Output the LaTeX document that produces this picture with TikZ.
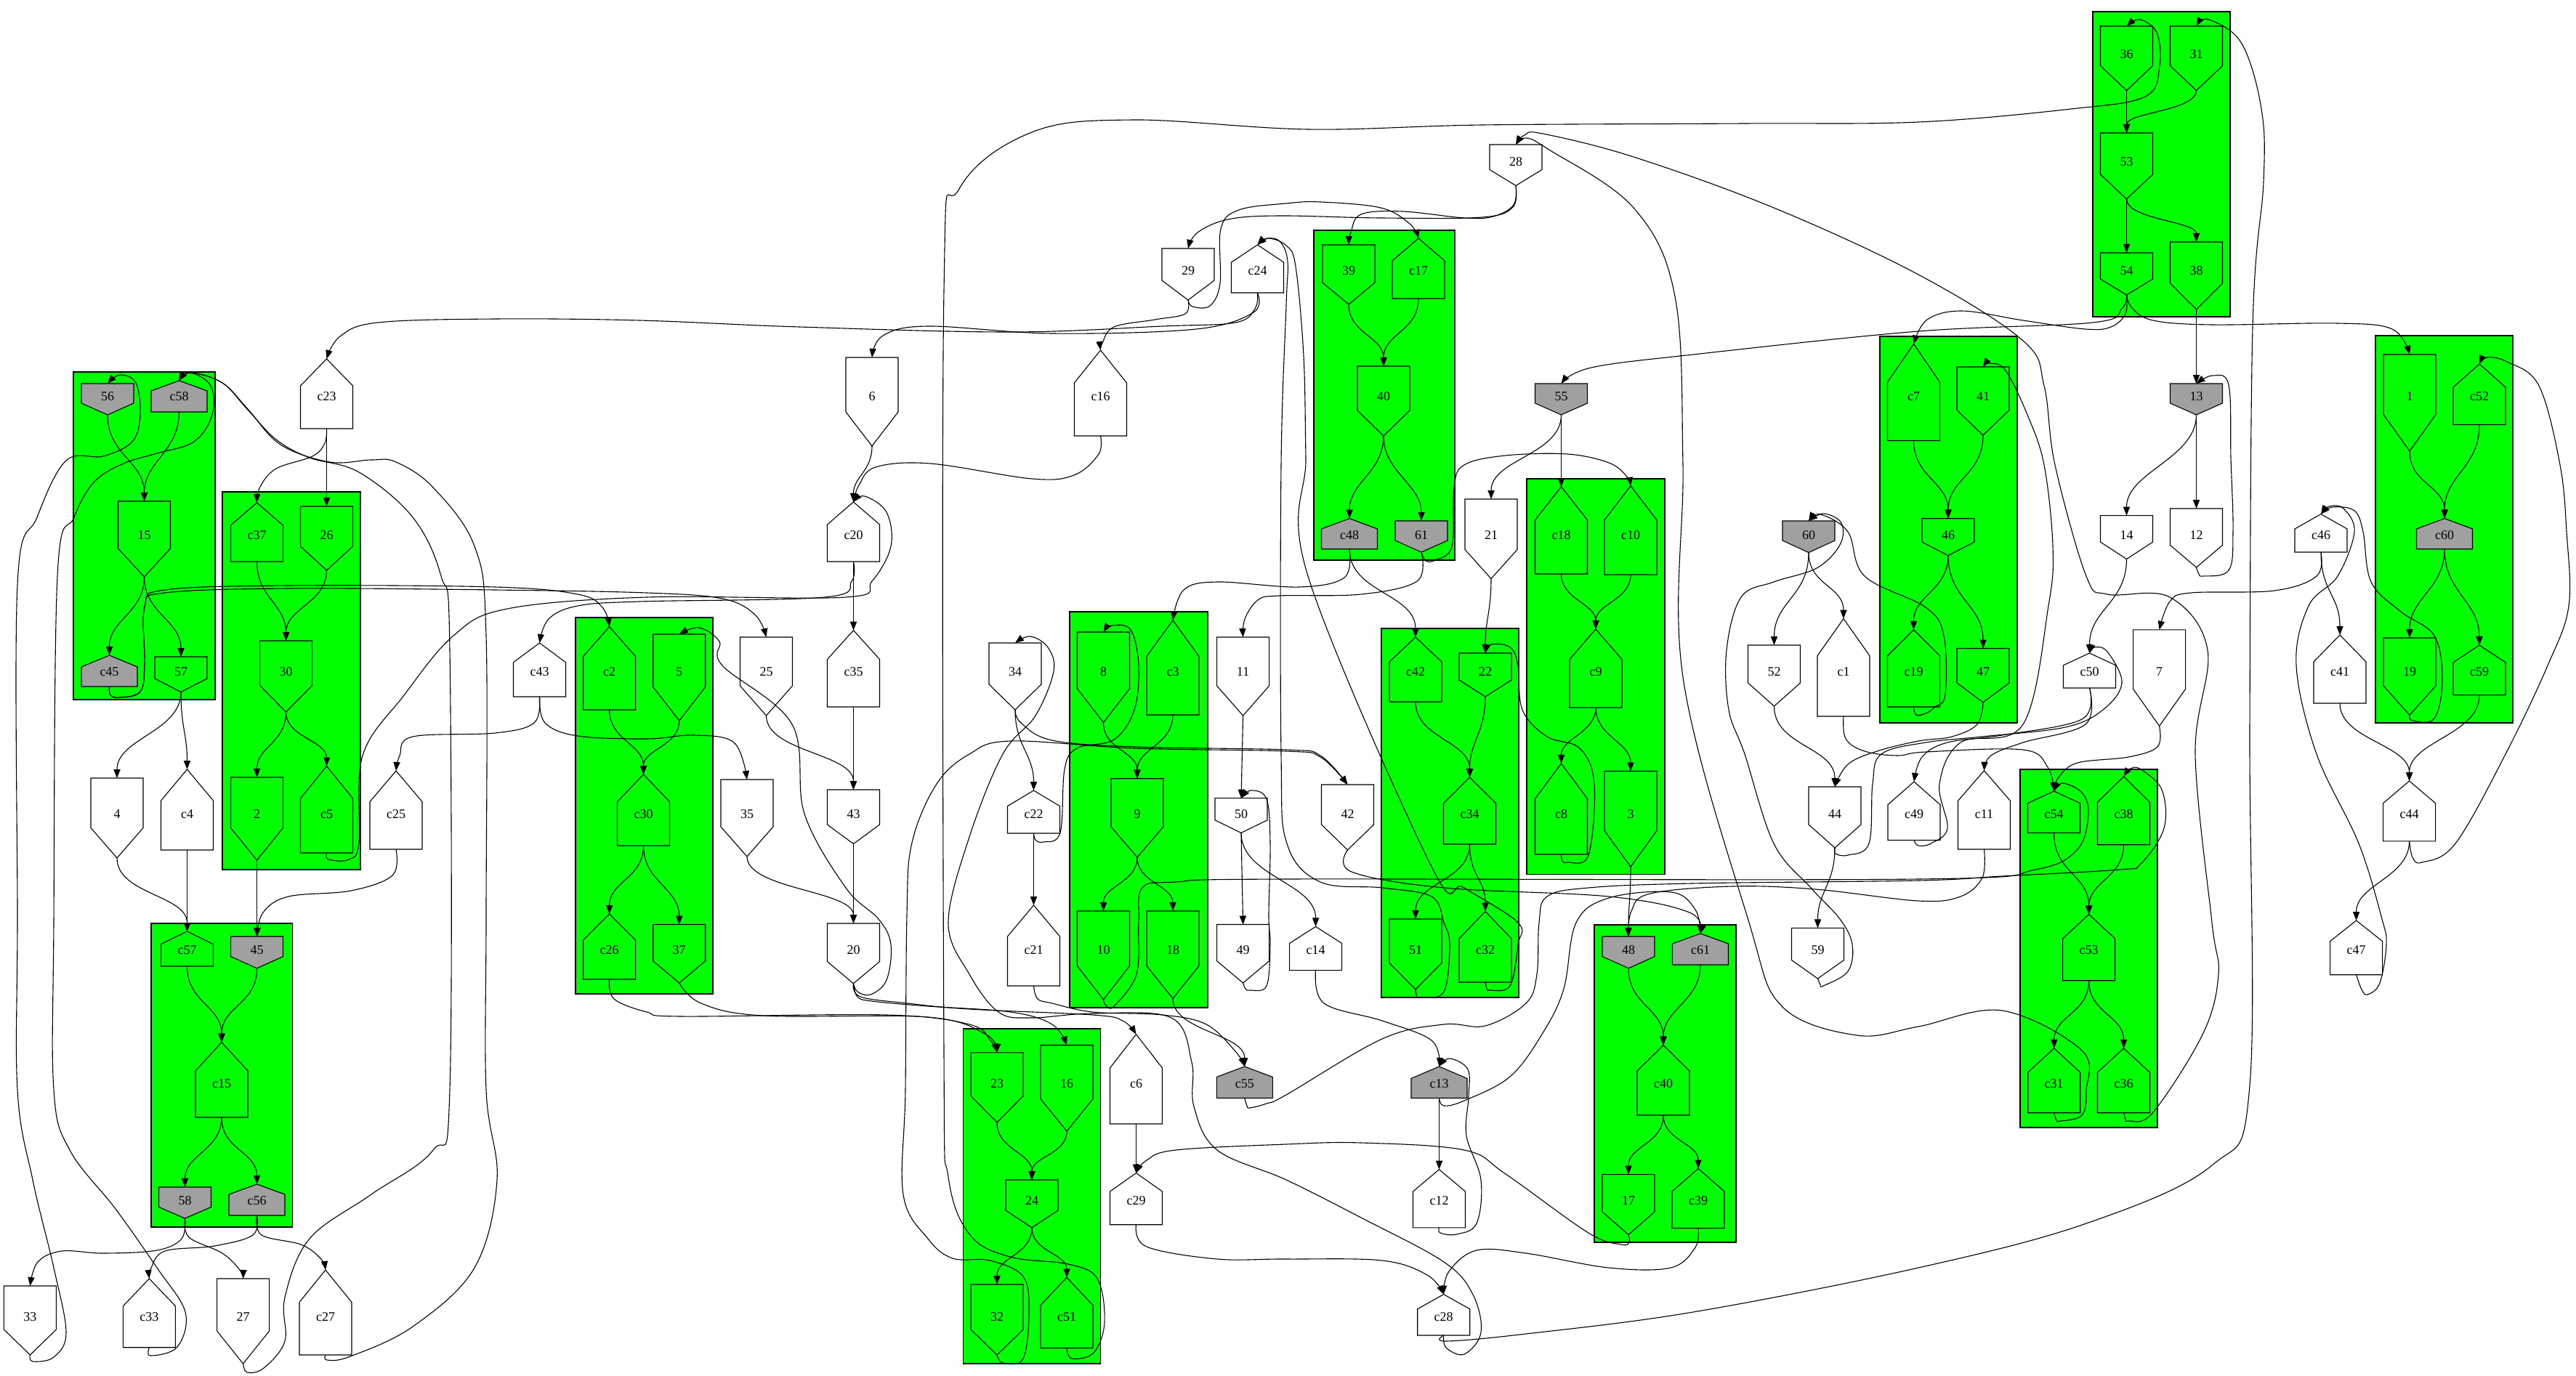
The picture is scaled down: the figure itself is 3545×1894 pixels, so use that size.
\documentclass[tikz,border=0pt]{standalone}
\usepackage{fontspec}
\setmainfont{Liberation Serif}
\usetikzlibrary{arrows.meta}
\definecolor{cgreen}{RGB}{0,255,0}
\definecolor{cgray}{RGB}{160,160,160}
\tikzset{
  nodeline/.style={draw=black, line width=0.55pt},
  lbl/.style={inner sep=0pt, outer sep=0pt, anchor=base, font=\fontsize{9}{10}\selectfont},
  edge/.style={draw=black, line width=0.55pt, -{Triangle[length=6pt,width=4.6pt]}},
  clus/.style={fill=cgreen, draw=black, line width=0.55pt}
}
% down-pointing node: name,label,cx,top,rectbottom,tip,fill,ranky,halfwidth
\newcommand\DN[9]{%
  \pgfmathsetmacro\nXL{#3-#9}\pgfmathsetmacro\nXR{#3+#9}%
  \pgfmathsetmacro\nTH{(#8+6-#4)*0.5}\pgfmathsetmacro\nTD{(#6-#8-6)*0.5}%
  \pgfmathsetmacro\nBY{#8+6}%
  \filldraw[nodeline, fill=#7] (\nXL,#4) -- (\nXR,#4) -- (\nXR,#5) -- (#3,#6) -- (\nXL,#5) -- cycle;
  \node[lbl, text height=\nTH pt, text depth=\nTD pt, minimum width=#9 pt] (#1) at (#3,\nBY) {#2};
}
% house node: name,label,cx,tip,shoulder,bottom,fill,ranky,halfwidth
\newcommand\HN[9]{%
  \pgfmathsetmacro\nXL{#3-#9}\pgfmathsetmacro\nXR{#3+#9}%
  \pgfmathsetmacro\nTH{(#8+6-#4)*0.5}\pgfmathsetmacro\nTD{(#6-#8-6)*0.5}%
  \pgfmathsetmacro\nBY{#8+6}%
  \filldraw[nodeline, fill=#7] (\nXL,#6) -- (\nXR,#6) -- (\nXR,#5) -- (#3,#4) -- (\nXL,#5) -- cycle;
  \node[lbl, text height=\nTH pt, text depth=\nTD pt, minimum width=#9 pt] (#1) at (#3,\nBY) {#2};
}
\newcommand\SE[2]{\draw[edge] (#1.south) -- (#2.north);}
\newcommand\CE[3]{\draw[edge] (#1.south) .. controls +(0,#3) and +(0,-#3) .. (#2.north);}
\newcommand\PE[3]{\draw[edge] plot[smooth,tension=0.6] coordinates {(#1.south) #3 (#2.north)};}
\begin{document}
\begin{tikzpicture}[x=0.5pt,y=-0.5pt]
\useasboundingbox (0,0) rectangle (3545,1894);
\fill[white] (0,0) rectangle (3545,1894);
% clusters
\filldraw[clus] (101,512) rectangle (296,963);
\filldraw[clus] (1808,317) rectangle (2002,771);
\filldraw[clus] (2587,463) rectangle (2776,995);
\filldraw[clus] (2880,16) rectangle (3069,436);
\filldraw[clus] (3269,462) rectangle (3458,995);
\filldraw[clus] (306,677) rectangle (496,1197);
\filldraw[clus] (792,850) rectangle (981,1368);
\filldraw[clus] (1472,842) rectangle (1662,1387);
\filldraw[clus] (2101,659) rectangle (2291,1203.5);
\filldraw[clus] (1901,865) rectangle (2090,1373);
\filldraw[clus] (2780,1059) rectangle (2969,1552);
\filldraw[clus] (208,1271) rectangle (402.5,1689);
\filldraw[clus] (1325.6,1416) rectangle (1514.6,1877);
\filldraw[clus] (2194,1273) rectangle (2389,1710);
% down nodes
\DN{n36}{36}{2926.5}{36}{90.6}{124.5}{cgreen}{74.7}{36}
\DN{n31}{31}{3022.5}{36}{90.6}{124.5}{cgreen}{74.7}{36}
\DN{n28}{28}{2086}{199}{233.5}{255.5}{white}{222.5}{36}
\DN{n53}{53}{2926.5}{183}{240}{274}{cgreen}{222.5}{36}
\DN{n29}{29}{1635}{342}{386}{413}{white}{372.7}{36}
\DN{n39}{39}{1856}{337}{389}{419}{cgreen}{372.7}{36}
\DN{n54}{54}{2926.5}{348}{384}{406}{cgreen}{372.7}{36}
\DN{n38}{38}{3022.5}{333}{390}{426}{cgreen}{372.7}{36}
\DN{n56}{56}{148}{528}{555}{571}{cgray}{545.8}{36}
\DN{n6}{6}{1200}{492}{567}{614}{white}{545.8}{36}
\DN{n40}{40}{1904}{504}{565}{600}{cgreen}{545.8}{36}
\DN{n55}{55}{2148.5}{528}{555}{571}{cgray}{545.8}{36}
\DN{n41}{41}{2729}{505}{564.5}{599}{cgreen}{545.8}{36}
\DN{n13}{13}{3022.5}{528}{555}{571}{cgray}{545.8}{36}
\DN{n1}{1}{3316}{488}{570.6}{621}{cgreen}{545.8}{36}
\DN{n15}{15}{198.5}{690}{755}{794}{cgreen}{736}{36}
\DN{n26}{26}{449.5}{697}{752}{785}{cgreen}{736}{36}
\DN{n61}{61}{1956}{717}{744}{760}{cgray}{736}{36}
\DN{n21}{21}{2052}{687}{756.5}{796.5}{white}{736}{36}
\DN{n60}{60}{2489}{717}{744}{760.6}{cgray}{736}{36}
\DN{n46}{46}{2681}{713.7}{746}{764.7}{cgreen}{736}{36}
\DN{n14}{14}{2926.5}{709.6}{746}{769.6}{white}{736}{36}
\DN{n12}{12}{3022.5}{700}{750.4}{781}{white}{736}{36}
\DN{n57}{57}{249}{904}{934}{952.5}{cgreen}{924.7}{36}
\DN{n30}{30}{393.6}{882}{943.5}{980}{cgreen}{924.7}{36}
\DN{n5}{5}{934.7}{873}{945.5}{992}{cgreen}{924.7}{36}
\DN{n25}{25}{1054.5}{877}{944}{985}{white}{924.7}{36}
\DN{n34}{34}{1397}{885}{942}{977}{white}{924.7}{36}
\DN{n8}{8}{1518.5}{870}{948}{994.5}{cgreen}{924.7}{36}
\DN{n11}{11}{1710.6}{877}{944}{985}{white}{924.7}{36}
\DN{n22}{22}{2044}{899}{936}{959}{cgreen}{924.7}{36}
\DN{n52}{52}{2441.5}{888}{940}{972}{white}{924.7}{36}
\DN{n47}{47}{2729}{892.5}{940}{966.8}{cgreen}{924.7}{36}
\DN{n7}{7}{2971.6}{866.8}{948.4}{999.4}{white}{924.7}{36}
\DN{n19}{19}{3316}{878}{944}{984.3}{cgreen}{924.7}{36}
\DN{n4}{4}{161}{1071}{1139.5}{1181}{white}{1120}{36}
\DN{n2}{2}{353.5}{1070}{1139.5}{1184}{cgreen}{1120}{36}
\DN{n35}{35}{1028}{1073}{1138}{1179}{white}{1120}{36}
\DN{n43}{43}{1174.5}{1087}{1135}{1161.5}{white}{1120}{36}
\DN{n9}{9}{1565}{1071.7}{1138}{1180}{cgreen}{1120}{36}
\DN{n50}{50}{1708}{1098.6}{1128.8}{1146.4}{white}{1120}{36}
\DN{n42}{42}{1854.5}{1080}{1135}{1170}{white}{1120}{36}
\DN{n3}{3}{2244}{1061.5}{1143.5}{1193}{cgreen}{1120}{36}
\DN{n44}{44}{2525}{1083}{1135}{1167}{white}{1120}{36}
\DN{n45}{45}{353.5}{1289}{1316.6}{1332.8}{cgray}{1307.7}{36}
\DN{n37}{37}{934.7}{1272.5}{1322.7}{1353}{cgreen}{1307.7}{36}
\DN{n20}{20}{1174.5}{1271}{1323.5}{1353.8}{white}{1307.7}{36}
\DN{n10}{10}{1518.5}{1254}{1329.5}{1376}{cgreen}{1307.7}{36}
\DN{n18}{18}{1614}{1254}{1329.5}{1374.4}{cgreen}{1307.7}{36}
\DN{n49}{49}{1710.6}{1272.5}{1322.7}{1353}{white}{1307.7}{36}
\DN{n51}{51}{1948}{1265}{1325.5}{1362}{cgreen}{1307.7}{36}
\DN{n48}{48}{2241}{1289}{1316.6}{1332.8}{cgray}{1307.7}{36}
\DN{n59}{59}{2501.5}{1277.4}{1321.5}{1347}{white}{1307.7}{36}
\DN{n23}{23}{1372}{1448.8}{1508.6}{1545}{cgreen}{1491}{36}
\DN{n16}{16}{1468}{1438.7}{1512.7}{1557}{cgreen}{1491}{36}
\DN{n58}{58}{254.5}{1634}{1661.5}{1677}{cgray}{1652}{36}
\DN{n24}{24}{1420}{1624}{1666}{1689.8}{cgreen}{1652}{36}
\DN{n17}{17}{2241}{1616.6}{1668}{1699.5}{cgreen}{1652}{36}
\DN{n33}{33}{41.4}{1770}{1830}{1865}{white}{1812}{36}
\DN{n27}{27}{334.6}{1760}{1832}{1877}{white}{1812}{36}
\DN{n32}{32}{1372}{1768}{1830}{1865}{cgreen}{1812}{36}
% house nodes
\HN{c24}{c24}{1730.5}{337}{361}{403}{white}{372.7}{36}
\HN{c17}{c17}{1952}{328}{359}{411}{cgreen}{372.7}{36}
\HN{c58}{c58}{246.5}{524}{538}{567}{cgray}{545.8}{38.5}
\HN{c23}{c23}{449.5}{494}{531}{590}{white}{545.8}{36}
\HN{c16}{c16}{1514.5}{482}{527}{600}{white}{545.8}{36}
\HN{c7}{c7}{2633.5}{473.5}{526}{606.5}{cgreen}{545.8}{36}
\HN{c52}{c52}{3412}{501}{533}{584.5}{cgreen}{545.8}{36}
\HN{c37}{c37}{353.5}{692}{723}{773}{cgreen}{736}{36}
\HN{c20}{c20}{1174.5}{691}{722}{773}{white}{736}{36}
\HN{c48}{c48}{1857}{713.7}{728}{755.7}{cgray}{736}{38.5}
\HN{c18}{c18}{2148.5}{670}{715.7}{790}{cgreen}{736}{36}
\HN{c10}{c10}{2244}{668.8}{715.7}{791}{cgreen}{736}{36}
\HN{c46}{c46}{3194}{707.6}{728}{760}{white}{736}{36}
\HN{c60}{c60}{3364}{713.7}{728}{755.7}{cgray}{736}{38.5}
\HN{c45}{c45}{150.5}{902}{918}{945}{cgray}{924.7}{38.5}
\HN{c43}{c43}{742.5}{885}{911.7}{959}{white}{924.7}{36}
\HN{c2}{c2}{838.6}{862.7}{903.5}{977}{cgreen}{924.7}{36}
\HN{c35}{c35}{1174.5}{867.6}{907.6}{973}{white}{924.7}{36}
\HN{c3}{c3}{1614}{853.7}{903.5}{984}{cgreen}{924.7}{36}
\HN{c42}{c42}{1948}{877}{911}{966}{cgreen}{924.7}{36}
\HN{c9}{c9}{2196}{866}{907.6}{974}{cgreen}{924.7}{36}
\HN{c1}{c1}{2537}{851.6}{902.7}{986}{white}{924.7}{36}
\HN{c19}{c19}{2633.5}{866.8}{902.7}{973}{cgreen}{924.7}{36}
\HN{c50}{c50}{2875.5}{899}{915.7}{947}{white}{924.7}{36}
\HN{c41}{c41}{3220}{874}{911}{968}{white}{924.7}{36}
\HN{c59}{c59}{3412}{888}{911.7}{956.6}{cgreen}{924.7}{36}
\HN{c4}{c4}{257.5}{1059}{1102}{1170}{white}{1120}{36}
\HN{c5}{c5}{449.5}{1054.5}{1099}{1174}{cgreen}{1120}{36}
\HN{c25}{c25}{545}{1061}{1103.5}{1169}{white}{1120}{36}
\HN{c30}{c30}{885.5}{1066}{1103.5}{1164}{cgreen}{1120}{36}
\HN{c22}{c22}{1422.5}{1088}{1109.6}{1147}{white}{1120}{36}
\HN{c34}{c34}{2022.5}{1070}{1105.6}{1162}{cgreen}{1120}{36}
\HN{c8}{c8}{2148.5}{1051}{1099.4}{1176}{cgreen}{1120}{36}
\HN{c49}{c49}{2634}{1076}{1107.6}{1156.5}{white}{1120}{36}
\HN{c11}{c11}{2730.5}{1060.7}{1102.3}{1169}{white}{1120}{36}
\HN{c54}{c54}{2826.5}{1089}{1105.6}{1146.4}{cgreen}{1120}{36}
\HN{c38}{c38}{2922.5}{1068.8}{1104.3}{1162.7}{cgreen}{1120}{36}
\HN{c44}{c44}{3315.6}{1075}{1105.6}{1157.8}{white}{1120}{36}
\HN{c57}{c57}{257.5}{1282}{1299.6}{1330}{cgreen}{1307.7}{36}
\HN{c26}{c26}{838.6}{1258}{1294}{1348}{cgreen}{1307.7}{36}
\HN{c21}{c21}{1422.5}{1246}{1289}{1357}{white}{1307.7}{36}
\HN{c14}{c14}{1810.6}{1275.4}{1298.4}{1335.6}{white}{1307.7}{36}
\HN{c32}{c32}{2044}{1254.6}{1292}{1352}{cgreen}{1307.7}{36}
\HN{c61}{c61}{2340}{1285}{1299}{1328}{cgray}{1307.7}{38.5}
\HN{c53}{c53}{2874.6}{1258.6}{1292}{1349.7}{cgreen}{1307.7}{36}
\HN{c47}{c47}{3242.6}{1267}{1295.6}{1341.7}{white}{1307.7}{36}
\HN{c15}{c15}{305}{1434.7}{1474}{1538}{cgreen}{1491}{36}
\HN{c6}{c6}{1563.5}{1423.7}{1470}{1547}{white}{1491}{36}
\HN{c55}{c55}{1712.8}{1468}{1482.4}{1511.5}{cgray}{1491}{38.5}
\HN{c13}{c13}{1980.5}{1468}{1484.4}{1511.5}{cgray}{1491}{38.5}
\HN{c40}{c40}{2289}{1438.7}{1474}{1535}{cgreen}{1491}{36}
\HN{c31}{c31}{2826.7}{1443}{1476}{1531.7}{cgreen}{1491}{36}
\HN{c36}{c36}{2922.5}{1443}{1476}{1531.7}{cgreen}{1491}{36}
\HN{c56}{c56}{353.5}{1630}{1644}{1673}{cgray}{1652}{38.5}
\HN{c29}{c29}{1563.5}{1614.6}{1640}{1685.7}{white}{1652}{36}
\HN{c12}{c12}{1980.5}{1609.7}{1640}{1689.8}{white}{1652}{36}
\HN{c39}{c39}{2337}{1608.5}{1640}{1690.6}{cgreen}{1652}{36}
\HN{c33}{c33}{205.4}{1760}{1797.7}{1854.7}{white}{1812}{36}
\HN{c27}{c27}{448}{1748}{1792.5}{1865}{white}{1812}{36}
\HN{c51}{c51}{1468}{1758.5}{1796.5}{1855.5}{cgreen}{1812}{36}
\HN{c28}{c28}{1986.7}{1781.6}{1801.8}{1838}{white}{1812}{36}
% ---------- edges ----------
\SE{n36}{n53} \CE{n31}{n53}{28} \SE{n53}{n54} \CE{n53}{n38}{28}
\SE{n38}{n13} \SE{n13}{n12} \CE{n13}{n14}{60} \CE{n14}{c50}{60}
\CE{c17}{n40}{45} \CE{n39}{n40}{40} \CE{n40}{c48}{50} \CE{n40}{n61}{50}
\CE{c48}{c42}{60} \SE{n55}{c18} \CE{n55}{n21}{55} \CE{n21}{n22}{45}
\CE{c18}{c9}{35} \CE{c10}{c9}{35} \CE{c9}{c8}{35} \CE{c9}{n3}{40}
\CE{c42}{c34}{50} \CE{n22}{c34}{50} \CE{c34}{n51}{50} \CE{c34}{c32}{45}
\CE{n3}{n48}{45} \CE{n48}{c40}{50} \CE{c61}{c40}{50}
\CE{c40}{n17}{40} \CE{c40}{c39}{35}
\CE{n23}{n24}{38} \CE{n16}{n24}{32} \CE{n24}{n32}{38} \CE{n24}{c51}{33}
\CE{n8}{n9}{38} \CE{c3}{n9}{42} \CE{n9}{n10}{35} \CE{n9}{n18}{35}
\CE{n18}{c55}{45} \SE{n11}{n50} \SE{n50}{n49} \CE{n50}{c14}{60}
\SE{c22}{c21} \CE{n34}{c22}{50} \SE{c35}{n43} \CE{n25}{n43}{50}
\SE{n43}{n20} \CE{n35}{n20}{45} \SE{c20}{c35} \CE{n6}{c20}{35}
\CE{c2}{c30}{42} \CE{n5}{c30}{35} \CE{c30}{c26}{45} \CE{c30}{n37}{50}
\CE{c37}{n30}{50} \CE{n26}{n30}{45} \CE{n30}{n2}{42} \CE{n30}{c5}{35}
\SE{n2}{n45} \CE{n56}{n15}{55} \CE{c58}{n15}{55}
\CE{n15}{c45}{50} \CE{n15}{n57}{50} \CE{n57}{n4}{55} \CE{n57}{c4}{50}
\CE{n4}{c57}{50} \SE{c4}{c57} \CE{c57}{c15}{50} \CE{n45}{c15}{50}
\CE{c15}{n58}{45} \CE{c15}{c56}{45} \SE{c23}{n26}
\SE{c6}{c29} \SE{c13}{c12}
\CE{n1}{c60}{45} \CE{c52}{c60}{60} \CE{c60}{n19}{55} \CE{c60}{c59}{60}
\CE{c41}{c44}{50} \CE{c59}{c44}{55} \CE{c46}{c41}{55}
\CE{c7}{n46}{50} \CE{n41}{n46}{55} \CE{n46}{c19}{48} \CE{n46}{n47}{60}
\CE{n60}{n52}{60} \CE{n60}{c1}{45} \CE{n52}{n44}{55} \CE{n44}{n59}{50}
\CE{c54}{c53}{55} \CE{c38}{c53}{45} \CE{c53}{c31}{45} \CE{c53}{c36}{45}
\CE{c44}{c47}{50}
\PE{n54}{n1}{(2934,424) (2963,441) (3044,447) (3217,445) (3292,453)}
\PE{n54}{n55}{(2920,425) (2880,444) (2640,456) (2330,488) (2190,506)}
\PE{n54}{c7}{(2925,432) (2905,450) (2870,453) (2784,441) (2700,428) (2652,440)}
\PE{c51}{n36}{(1475,1870) (1505,1862) (1520,1820) (1510,1760) (1470,1740) (1390,1730) (1335,1700) (1305,1620) (1299,1450) (1299,400) (1320,260) (1420,182) (1560,165) (1800,178) (2040,172) (2400,170) (2640,168) (2850,150) (2952,133) (2972,90) (2968,45) (2945,27)}
\PE{c28}{n31}{(1990,1846) (2100,1836) (2330,1806) (2640,1745) (2871,1684) (3044,1604) (3096,1494) (3096,1000) (3100,450) (3115,250) (3112,150) (3085,60) (3040,27)}
\PE{n28}{n29}{(2082,285) (2040,299) (1900,300) (1760,297) (1690,302) (1648,320)}
\PE{n28}{n39}{(2083,282) (2055,298) (2015,300) (1930,291) (1873,295) (1859,320)}
\PE{n29}{c16}{(1631,432) (1589,440) (1533,450) (1517,472)}
\PE{n29}{c17}{(1641,422) (1665,421) (1679,390) (1680,315) (1705,289) (1770,280) (1817,278) (1900,286) (1940,308)}
\PE{c24}{c23}{(1727,425) (1700,444) (1600,449) (1391,457) (1100,450) (880,441) (681,439) (520,444) (468,463)}
\PE{c24}{n6}{(1725,430) (1646,453) (1448,459) (1277,449) (1215,462)}
\PE{c16}{c20}{(1512,625) (1478,654) (1420,659) (1280,638) (1205,643) (1182,668)}
\PE{c5}{c20}{(452,1183) (480,1183) (494,1160) (499,1040) (556,957) (624,875) (698,838) (890,822) (1164,822) (1200,800) (1226,752) (1220,705) (1190,683)}
\PE{c20}{c43}{(1172,800) (1135,822) (880,828) (795,834) (755,852)}
\PE{c45}{n25}{(152,957) (165,960) (193,952) (199,915) (199,835) (227,816) (397,810) (681,812) (890,816) (994,824) (1039,846)}
\PE{c45}{c2}{(152,957) (165,960) (193,952) (199,915) (199,835) (227,812) (397,806) (681,808) (795,818) (829,836)}
\PE{c23}{c37}{(447,610) (430,628) (380,645) (358,670)}
\PE{c25}{n45}{(540,1205) (483,1226) (397,1234) (362,1256)}
\PE{n58}{n33}{(250,1705) (216,1721) (142,1725) (85,1722) (52,1737)}
\PE{n58}{n27}{(260,1703) (306,1725) (330,1748)}
\PE{c56}{c33}{(348,1700) (295,1715) (227,1722) (208,1745)}
\PE{c56}{c27}{(360,1700) (414,1713) (441,1732)}
\PE{n33}{n56}{(45,1874) (74,1868) (91,1834) (74,1745) (45,1624) (24,1500) (24,1260) (24,805) (51,712) (91,634) (142,628) (182,608) (193,571) (187,527) (165,516)}
\PE{c33}{c58}{(207,1866) (244,1854) (255,1806) (216,1745) (159,1664) (96,1583) (74,1500) (74,1270) (79,793) (102,712) (130,663) (170,638) (216,624) (267,608) (292,571) (290,531) (262,513)}
\PE{c27}{c58}{(450,1872) (482,1867) (568,1826) (653,1745) (684,1624) (669,1500) (669,1260) (669,875) (653,752) (596,671) (545,636) (511,633) (454,636) (386,612) (341,563) (306,527) (262,513)}
\PE{n27}{c58}{(340,1889) (363,1883) (392,1846) (392,1786) (426,1705) (511,1644) (596,1583) (619,1500) (619,895) (607,793) (568,712) (494,650) (426,630) (380,605) (340,563) (306,527) (262,513)}
\PE{c26}{n23}{(845,1375) (890,1393) (937,1399) (1220,1397) (1334,1410) (1363,1432)}
\PE{n37}{n23}{(965,1381) (1050,1398) (1277,1400) (1357,1424)}
\PE{n20}{n16}{(1180,1372) (1200,1378) (1277,1385) (1391,1393) (1448,1410)}
\PE{n20}{c6}{(1184,1372) (1249,1381) (1334,1389) (1504,1397) (1545,1405)}
\PE{n20}{n5}{(1180,1365) (1198,1369) (1220,1349) (1226,1300) (1209,1265) (1164,1222) (1107,1120) (1090,997) (994,916) (990,883) (962,864)}
\PE{c43}{c25}{(735,995) (681,1009) (568,1014) (550,1040)}
\PE{c43}{n35}{(750,995) (795,1013) (890,1017) (954,1012) (1010,1022)}
\PE{n34}{n42}{(1405,995) (1448,1019) (1561,1028) (1770,1032) (1817,1040)}
\PE{n32}{n42}{(1380,1876) (1408,1870) (1416,1806) (1408,1757) (1362,1735) (1311,1732) (1277,1705) (1243,1644) (1246,1500) (1248,1260) (1255,1160) (1289,1079) (1334,1038) (1391,1020) (1561,1030) (1770,1034) (1817,1042)}
\PE{c28}{n34}{(1990,1855) (2015,1864) (2038,1834) (2027,1782) (1987,1737) (1873,1676) (1770,1624) (1675,1583) (1643,1523) (1640,1462) (1612,1401) (1504,1395) (1419,1401) (1374,1393) (1334,1341) (1305,1270) (1334,1152) (1380,1038) (1425,985) (1450,924) (1442,891) (1418,876)}
\PE{c22}{n8}{(1425,1156) (1436,1159) (1459,1146) (1465,1059) (1482,1030) (1533,1018) (1561,977) (1567,916) (1556,867) (1530,861)}
\PE{c48}{c3}{(1850,795) (1788,808) (1675,801) (1629,812)}
\PE{n61}{n11}{(1950,800) (1873,818) (1760,820) (1731,826) (1713,852)}
\PE{n61}{c10}{(1962,772) (1975,771) (1998,752) (2001,671) (2015,640) (2072,627) (2157,625) (2214,637) (2238,655)}
\PE{c8}{n22}{(2150,1185) (2157,1187) (2186,1177) (2194,1079) (2174,1030) (2129,1014) (2095,977) (2089,916) (2078,891) (2052,887)}
\PE{n51}{c24}{(1950,1372) (1956,1373) (1987,1365) (1995,1300) (1987,1270) (1970,1234) (1902,1222) (1817,1214) (1771,1161) (1763,1038) (1763,640) (1770,420) (1772,360) (1762,333) (1745,328)}
\PE{c32}{c24}{(2046,1360) (2050,1363) (2078,1357) (2089,1300) (2089,1270) (2015,1222) (1970,1193) (1800,793) (1797,630) (1794,490) (1783,367) (1770,338) (1745,328)}
\PE{c11}{n48}{(2728,1208) (2698,1234) (2640,1240) (2498,1224) (2384,1220) (2271,1230) (2245,1254)}
\PE{n42}{c61}{(1860,1200) (1987,1222) (2214,1234) (2325,1256)}
\PE{c13}{c61}{(1987,1522) (2015,1515) (2078,1482) (2123,1422) (2152,1361) (2169,1270) (2214,1236) (2300,1228) (2333,1252)}
\PE{n10}{c54}{(1522,1384) (1533,1385) (1564,1341) (1567,1270) (1572,1222) (1618,1214) (1770,1210) (2640,1210) (2801,1197) (2859,1169) (2874,1120) (2865,1091) (2838,1078)}
\PE{c55}{c38}{(1716,1522) (1720,1525) (1743,1519) (1770,1507) (1902,1430) (1987,1410) (2044,1412) (2100,1381) (2115,1341) (2118,1270) (2129,1234) (2186,1222) (2328,1216) (2640,1212) (2755,1206) (2917,1197) (2946,1189) (2978,1140) (2975,1087) (2946,1059) (2932,1058)}
\PE{c14}{c13}{(1822,1381) (1902,1405) (1970,1432)}
\PE{c12}{c13}{(1982,1697) (2004,1699) (2032,1684) (2038,1624) (2018,1563) (2021,1510) (2020,1472) (1995,1457)}
\PE{n49}{n50}{(1714,1361) (1720,1363) (1743,1357) (1748,1300) (1746,1260) (1748,1160) (1743,1100) (1722,1088)}
\PE{c21}{c55}{(1428,1375) (1448,1381) (1504,1393) (1600,1397) (1660,1410) (1700,1447)}
\PE{n17}{c29}{(2242,1710) (2231,1713) (2186,1697) (2072,1616) (2015,1583) (1873,1573) (1770,1575) (1618,1583) (1578,1597)}
\PE{c29}{c28}{(1578,1716) (1675,1733) (1770,1733) (1902,1735) (1964,1755)}
\PE{c39}{c28}{(2333,1717) (2299,1745) (2214,1745) (2100,1725) (2032,1721) (1994,1750)}
\PE{c19}{n60}{(2637,984) (2650,982) (2663,973) (2677,956) (2675,875) (2650,836) (2566,793) (2543,732) (2505,708)}
\PE{n59}{n60}{(2505,1355) (2509,1357) (2543,1337) (2549,1300) (2532,1265) (2492,1222) (2441,1161) (2401,1038) (2379,977) (2376,895) (2396,822) (2441,801) (2500,782) (2532,750) (2534,720) (2510,707)}
\PE{n47}{n44}{(2721,997) (2686,1014) (2640,1020) (2583,1034) (2543,1052)}
\PE{c1}{c54}{(2540,1017) (2566,1034) (2611,1040) (2650,1035) (2784,1032) (2818,1056)}
\PE{n7}{c54}{(2969,1028) (2929,1042) (2859,1050) (2833,1070)}
\PE{n44}{c50}{(2526,1175) (2543,1177) (2572,1161) (2577,1079) (2589,1038) (2650,1022) (2727,1014) (2842,1001) (2894,977) (2920,940) (2900,897) (2882,891)}
\PE{c50}{c49}{(2865,990) (2755,1012) (2680,1022) (2645,1042)}
\PE{c50}{c11}{(2870,997) (2784,1022) (2740,1040)}
\PE{c49}{n41}{(2640,1164) (2657,1161) (2680,1140) (2669,1079) (2698,1022) (2784,997) (2819,834) (2825,752) (2813,640) (2790,571) (2760,510) (2738,500)}
\PE{c36}{n28}{(2925,1540) (2929,1543) (2963,1531) (3032,1422) (3053,1341) (3044,1270) (3021,1038) (3038,895) (2986,822) (2900,818) (2871,793) (2828,640) (2813,531) (2784,469) (2640,378) (2441,286) (2248,216) (2123,184) (2098,186)}
\PE{c31}{n28}{(2830,1542) (2836,1543) (2865,1535) (2871,1502) (2865,1446) (2755,1391) (2640,1413) (2555,1425) (2452,1385) (2407,1270) (2316,932) (2316,640) (2305,408) (2248,286) (2130,205) (2100,190)}
\PE{n19}{c46}{(3320,992) (3350,989) (3361,936) (3350,875) (3304,842) (3263,801) (3252,732) (3240,703) (3210,698)}
\PE{c47}{c46}{(3250,1362) (3258,1369) (3275,1353) (3284,1300) (3278,1265) (3246,1161) (3188,1038) (3160,916) (3177,834) (3217,793) (3240,732) (3225,700) (3205,697)}
\PE{c46}{n7}{(3188,793) (3130,813) (3015,816) (2986,828)}
\PE{c44}{c52}{(3320,1180) (3333,1187) (3379,1161) (3448,1038) (3506,916) (3535,834) (3532,732) (3523,640) (3494,531) (3450,498) (3422,492)}
\PE{n12}{n13}{(3026,790) (3032,793) (3067,785) (3073,732) (3070,630) (3067,530) (3045,517)}
\end{tikzpicture}
\end{document}
